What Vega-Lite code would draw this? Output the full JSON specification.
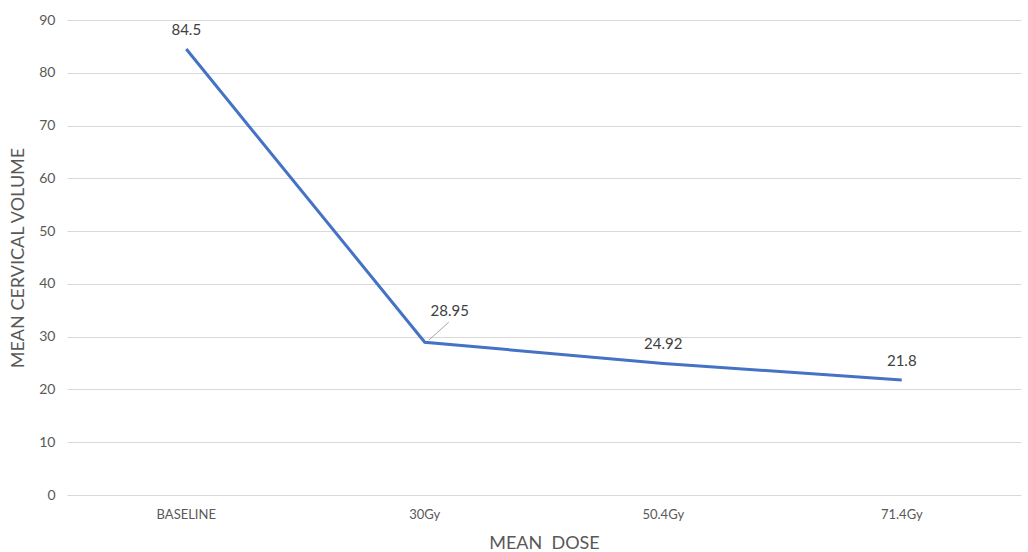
{
  "$schema": "https://vega.github.io/schema/vega-lite/v6.json",
  "width": 954,
  "height": 475,
  "autosize": {"type": "none"},
  "padding": {"left": 67, "top": 20, "right": 7, "bottom": 57},
  "background": "white",
  "config": {
    "view": {"stroke": null},
    "font": "Lato"
  },
  "data": {
    "values": [
      {"dose": "BASELINE", "volume": 84.5, "label": "84.5"},
      {"dose": "30Gy", "volume": 28.95, "label": "28.95"},
      {"dose": "50.4Gy", "volume": 24.92, "label": "24.92"},
      {"dose": "71.4Gy", "volume": 21.8, "label": "21.8"}
    ]
  },
  "encoding": {
    "x": {
      "field": "dose",
      "type": "nominal",
      "sort": null,
      "scale": {"paddingInner": 0, "paddingOuter": 0},
      "axis": {
        "title": "MEAN\u00a0 DOSE",
        "titleFontSize": 18,
        "titleFontWeight": "normal",
        "titleColor": "#595959",
        "titlePadding": 13,
        "labelAngle": 0,
        "labelFontSize": 13,
        "labelColor": "#595959",
        "labelPadding": 13,
        "ticks": false,
        "domain": false,
        "grid": false
      }
    },
    "y": {
      "field": "volume",
      "type": "quantitative",
      "scale": {"domain": [0, 90]},
      "axis": {
        "title": "MEAN CERVICAL VOLUME",
        "titleFontSize": 18,
        "titleFontWeight": "normal",
        "titleColor": "#595959",
        "titlePadding": 11,
        "values": [0, 10, 20, 30, 40, 50, 60, 70, 80, 90],
        "labelFontSize": 14,
        "labelColor": "#595959",
        "labelPadding": 12,
        "ticks": false,
        "domain": false,
        "grid": true,
        "gridColor": "#d9d9d9",
        "gridWidth": 1
      }
    }
  },
  "layer": [
    {
      "mark": {"type": "line", "color": "#4472C4", "strokeWidth": 3}
    },
    {
      "transform": [{"filter": "datum.dose !== '30Gy'"}],
      "mark": {"type": "text", "dy": -19, "fontSize": 15, "color": "#404040"},
      "encoding": {"text": {"field": "label"}}
    },
    {
      "transform": [{"filter": "datum.dose === '30Gy'"}],
      "mark": {"type": "text", "dy": -31, "dx": 25, "fontSize": 15, "color": "#404040"},
      "encoding": {"text": {"field": "label"}}
    },
    {
      "transform": [{"filter": "datum.dose === '30Gy'"}],
      "mark": {"type": "rule", "color": "#a6a6a6", "strokeWidth": 1, "xOffset": 4, "x2Offset": 24, "yOffset": -2, "y2Offset": -20},
      "encoding": {
        "x2": {"field": "dose"},
        "y2": {"field": "volume"}
      }
    }
  ]
}
